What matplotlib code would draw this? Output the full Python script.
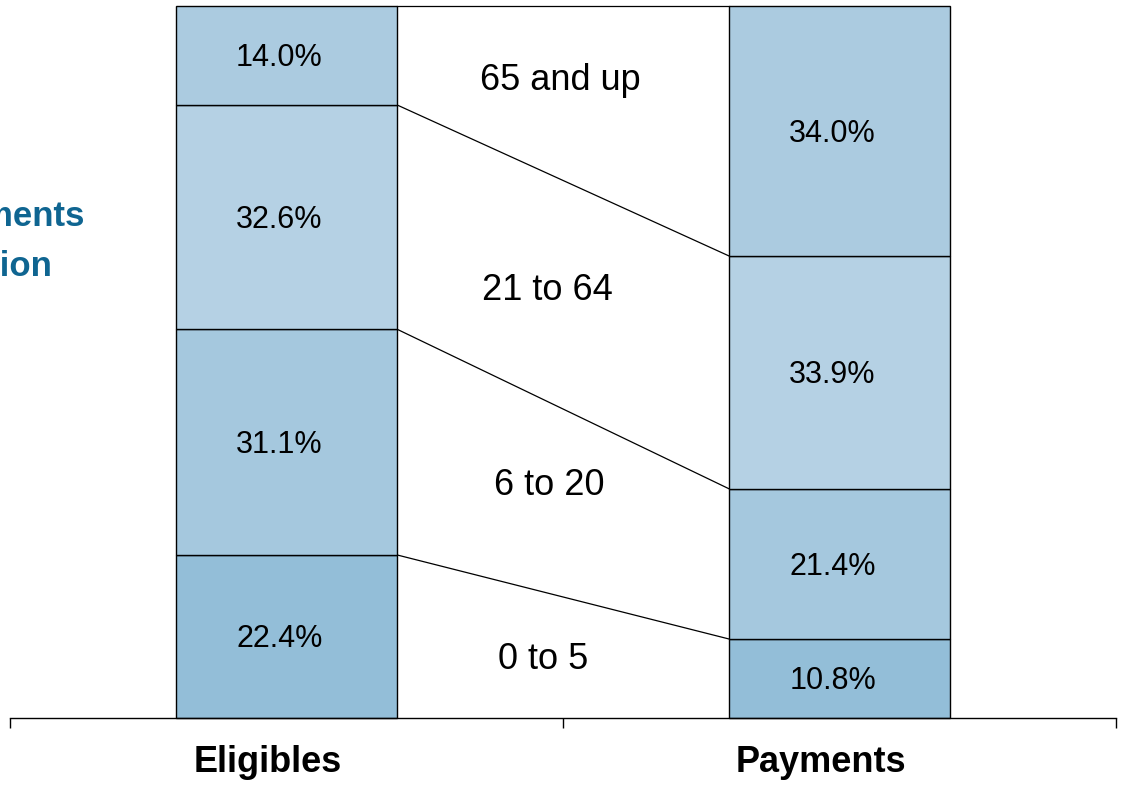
import matplotlib
matplotlib.use("Agg")
import matplotlib.pyplot as plt
import numpy as np

plt.rcParams['font.family'] = ['Liberation Sans', 'DejaVu Sans']

# ---- data ----
groups = ["0 to 5", "6 to 20", "21 to 64", "65 and up"]
bars = ["Eligibles", "Payments"]
# segment heights (share, %), bottom to top
eligibles_share = [22.9, 31.7, 31.5, 13.9]
payments_share = [11.1, 21.1, 32.7, 35.1]
# printed labels
eligibles_labels = ["22.4%", "31.1%", "32.6%", "14.0%"]
payments_labels = ["10.8%", "21.4%", "33.9%", "34.0%"]
title_lines = ["Medicaid Payments", "Age Distribution"]

# ---- style / layout ----
colors = ["#93bed8", "#a5c8de", "#b5d1e4", "#abcbe0"]
bar_pos = [0.5, 1.5]
bar_w = 0.4
group_label_pos = [(0.964, 8.7), (0.975, 33.1), (0.971, 60.4), (0.995, 90.0)]

W, H = 1122, 785
fig = plt.figure(figsize=(W / 100, H / 100), dpi=100)
ax = fig.add_axes([10 / W, (H - 718) / H, (1116 - 10) / W, (718 - 6) / H])
ax.set_xlim(0, 2)
ax.set_ylim(0, 100)

series = [eligibles_share, payments_share]
labels = [eligibles_labels, payments_labels]
cums = []
for i, (vals, labs) in enumerate(zip(series, labels)):
    vals = np.array(vals, dtype=float)
    bottoms = np.concatenate([[0], np.cumsum(vals)[:-1]])
    cums.append(np.cumsum(vals))
    ax.bar([bar_pos[i]] * len(vals), vals, bottom=bottoms, width=bar_w,
           color=colors, edgecolor="black", linewidth=1.0, clip_on=False, zorder=2)
    for v, b, t in zip(vals, bottoms, labs):
        ax.annotate(t, xy=(bar_pos[i], b + v / 2), xytext=(-7, -3),
                    textcoords="offset pixels", ha="center", va="center",
                    fontsize=22, color="black", zorder=3)

# connecting lines between cumulative boundaries
xl = bar_pos[0] + bar_w / 2
xr = bar_pos[1] - bar_w / 2
for a, b in zip(cums[0], cums[1]):
    ax.plot([xl, xr], [a, b], color="black", linewidth=0.9, clip_on=False, zorder=1)

for g, (gx, gy) in zip(groups, group_label_pos):
    ax.annotate(g, xy=(gx, gy), xytext=(0, -3), textcoords="offset pixels",
                ha="center", va="center", fontsize=26, color="black")

# axis styling
for s in ["top", "left", "right"]:
    ax.spines[s].set_visible(False)
ax.spines["bottom"].set_linewidth(1.0)
ax.set_yticks([])
ax.set_xticks([0, 1, 2])
ax.set_xticklabels([])
ax.tick_params(axis="x", direction="out", length=7.5, width=1.0, color="black")

for bp, name in zip(bar_pos, bars):
    ax.annotate(name, xy=(bp, 0), xycoords="data", xytext=(-19, -45),
                textcoords="offset pixels", ha="center", va="center",
                fontsize=26, fontweight="bold", color="black")

# left title, cut off by the figure edge as in the reference
fig.text(84 / W, 1 - 226 / H, title_lines[0], ha="right", va="baseline",
         fontsize=25, fontweight="bold", color="#0f6591")
fig.text(52 / W, 1 - 276 / H, title_lines[1], ha="right", va="baseline",
         fontsize=25, fontweight="bold", color="#0f6591")

fig.savefig("out.png", dpi=100)
